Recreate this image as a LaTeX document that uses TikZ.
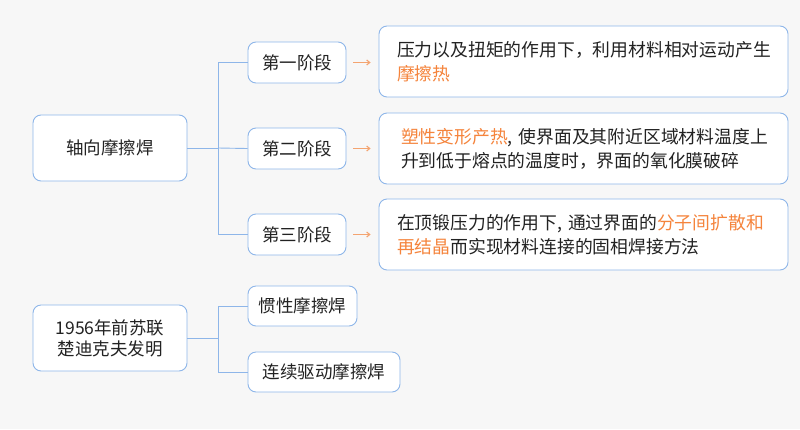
\documentclass[tikz,border=0pt]{standalone}
\usepackage{fontspec}
\setmainfont{Noto Sans CJK SC}
\usetikzlibrary{arrows.meta,positioning}
\definecolor{bgGray}{HTML}{F7F7F7}
\definecolor{frameBlue}{HTML}{8EB6E9}
\definecolor{hiOrange}{HTML}{F5843C}
\definecolor{arrOrange}{HTML}{F4A470}
\definecolor{txtDark}{HTML}{222222}
\newcommand{\hl}[1]{\textcolor{hiOrange}{#1}}

\begin{document}
\begin{tikzpicture}[x=1pt, y=-1pt,
      box/.style={draw=frameBlue, fill=white, rounded corners=8pt, line width=0.9pt,
                  text=txtDark, font=\fontsize{17.5}{21}\selectfont, align=center, inner sep=0pt},
      root/.style={box, minimum width=154pt, minimum height=66pt},
      stage/.style={box, minimum width=98pt, minimum height=41pt},
      leaf/.style={box, minimum height=40pt},
      desc/.style={box, minimum width=409pt, minimum height=71pt, align=left,
                   inner xsep=18pt, text width=373pt, font=\fontsize{17.8}{24}\selectfont},
      link/.style={draw=frameBlue, line width=0.9pt},
      arr/.style={-{Straight Barb[length=3pt,width=5pt]}, draw=arrOrange, line width=1.1pt}
    ]
      \fill[bgGray] (0,0) rectangle (800,429);
      \useasboundingbox (0,0) rectangle (800,429);

      % Axial friction welding
      \node[root] (ax) at (110,148) {轴向摩擦焊};

      % Stages
      \node[stage] (s1) at (297,62.5) {第一阶段};
      \node[stage] (s2) at (297,148.5) {第二阶段};
      \node[stage] (s3) at (297,234.5) {第三阶段};

      % Descriptions
      \node[desc] (d1) at (583.5,61.5) {压力以及扭矩的作用下，利用材料相对运动产生\\
        \hl{摩擦热}};
      \node[desc] (d2) at (583.5,148.5) {\hspace{4pt}\hl{塑性变形产热}, 使界面及其附近区域材料温度上\\
        \hspace{4pt}升到低于熔点的温度时，界面的氧化膜破碎};
      \node[desc] (d3) at (583.5,234.5) {在顶锻压力的作用下, 通过界面的\hl{分子间扩散和}\\
        \hl{再结晶}而实现材料连接的固相焊接方法};

      % Origin
      \node[root] (org) at (110,338) {1956年前苏联\\楚迪克夫发明};
      \node[leaf, minimum width=109pt] (k1) at (302.5,306) {惯性摩擦焊};
      \node[leaf, minimum width=152pt] (k2) at (324,372) {连续驱动摩擦焊};

      % Edges
      \coordinate (ta) at (218,148);
      \coordinate (tb) at (218,338);
      \draw[link] (ax.east) -- (ta) |- (s1.west);
      \draw[link] (ta) -- (s2.west);
      \draw[link] (ta) |- (s3.west);
      \draw[link] (org.east) -- (tb) |- (k1.west);
      \draw[link] (tb) |- (k2.west);

      \draw[arr] ([xshift=7pt]s1.east) -- ([xshift=-8pt]s1.east -| d1.west);
      \draw[arr] ([xshift=7pt]s2.east) -- ([xshift=-8pt]s2.east -| d2.west);
      \draw[arr] ([xshift=7pt]s3.east) -- ([xshift=-8pt]s3.east -| d3.west);
    \end{tikzpicture}
\end{document}
